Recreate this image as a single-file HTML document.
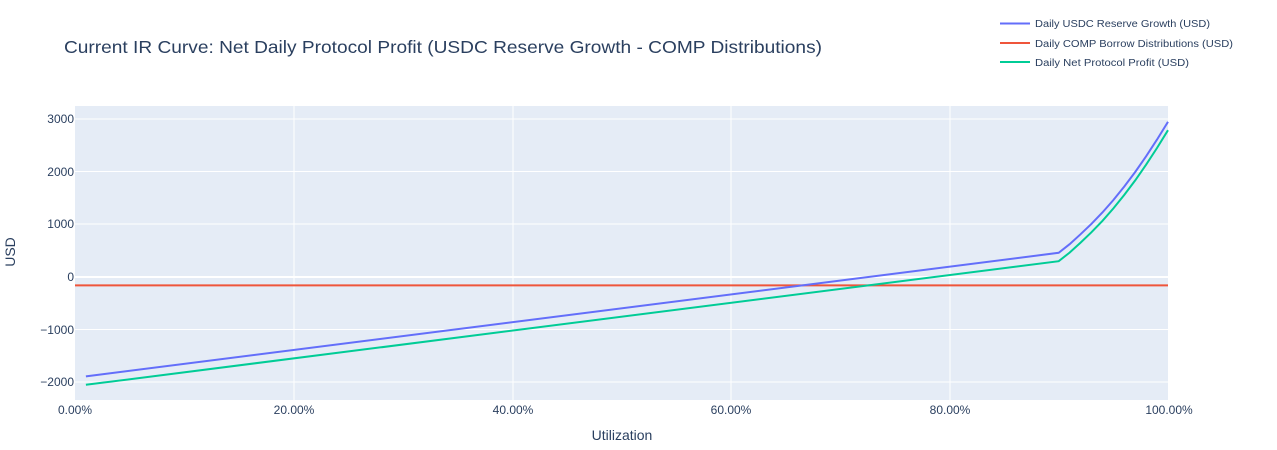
<!DOCTYPE html>
<html><head><meta charset="utf-8"><style>body{margin:0;background:#fff}svg{display:block;font-family:"Liberation Sans",sans-serif}</style></head>
<body>
<svg width="1277" height="450" viewBox="0 0 1277 450">
<rect x="75" y="106" width="1093" height="294" fill="#e5ecf6"/>
<g stroke="#fff" stroke-width="1">
<line x1="294" y1="106" x2="294" y2="400"/><line x1="513" y1="106" x2="513" y2="400"/>
<line x1="731" y1="106" x2="731" y2="400"/><line x1="950" y1="106" x2="950" y2="400"/>
<line x1="75" y1="119" x2="1168" y2="119"/><line x1="75" y1="171.5" x2="1168" y2="171.5"/>
<line x1="75" y1="224" x2="1168" y2="224"/><line x1="75" y1="329.5" x2="1168" y2="329.5"/>
<line x1="75" y1="382" x2="1168" y2="382"/>
</g>
<line x1="75" y1="277" x2="1168" y2="277" stroke="#fff" stroke-width="2"/>
<line x1="75" y1="285.4" x2="1168" y2="285.4" stroke="#ef553b" stroke-width="2"/>
<polyline fill="none" stroke="#636efa" stroke-width="2" points="85.9,376.4 1058.7,252.8 1069.6,244.2 1080.6,234.2 1091.5,223.8 1102.4,212.5 1113.4,200 1124.3,186.5 1135.2,172 1146.1,156.3 1157,139.6 1168,121.8"/>
<polyline fill="none" stroke="#00cc96" stroke-width="2" points="85.9,384.8 1058.7,261.2 1069.6,252.6 1080.6,242.6 1091.5,232.2 1102.4,220.9 1113.4,208.4 1124.3,194.9 1135.2,180.4 1146.1,164.7 1157,148 1168,130.2"/>
<g fill="#2a3f5f" font-size="12">
<g text-anchor="middle">
<text x="75" y="414">0.00%</text><text x="294" y="414">20.00%</text><text x="513" y="414">40.00%</text>
<text x="731" y="414">60.00%</text><text x="950" y="414">80.00%</text><text x="1169" y="414">100.00%</text>
</g>
<g text-anchor="end">
<text x="74" y="123">3000</text><text x="74" y="176">2000</text><text x="74" y="228">1000</text>
<text x="74" y="281">0</text><text x="74" y="334">−1000</text><text x="74" y="386">−2000</text>
</g>
<text x="622" y="440" font-size="14" text-anchor="middle">Utilization</text>
<text transform="translate(15,252) rotate(-90)" font-size="14" text-anchor="middle">USD</text>
<text x="64" y="53" font-size="17.5" textLength="758" lengthAdjust="spacingAndGlyphs">Current IR Curve: Net Daily Protocol Profit (USDC Reserve Growth - COMP Distributions)</text>
<g font-size="10">
<text x="1035" y="27" textLength="175" lengthAdjust="spacingAndGlyphs">Daily USDC Reserve Growth (USD)</text>
<text x="1035" y="47" textLength="198" lengthAdjust="spacingAndGlyphs">Daily COMP Borrow Distributions (USD)</text>
<text x="1035" y="66" textLength="154" lengthAdjust="spacingAndGlyphs">Daily Net Protocol Profit (USD)</text>
</g>
</g>
<line x1="1000" y1="23.5" x2="1030" y2="23.5" stroke="#636efa" stroke-width="2"/>
<line x1="1000" y1="43" x2="1030" y2="43" stroke="#ef553b" stroke-width="2"/>
<line x1="1000" y1="62" x2="1030" y2="62" stroke="#00cc96" stroke-width="2"/>
</svg>
</body></html>
